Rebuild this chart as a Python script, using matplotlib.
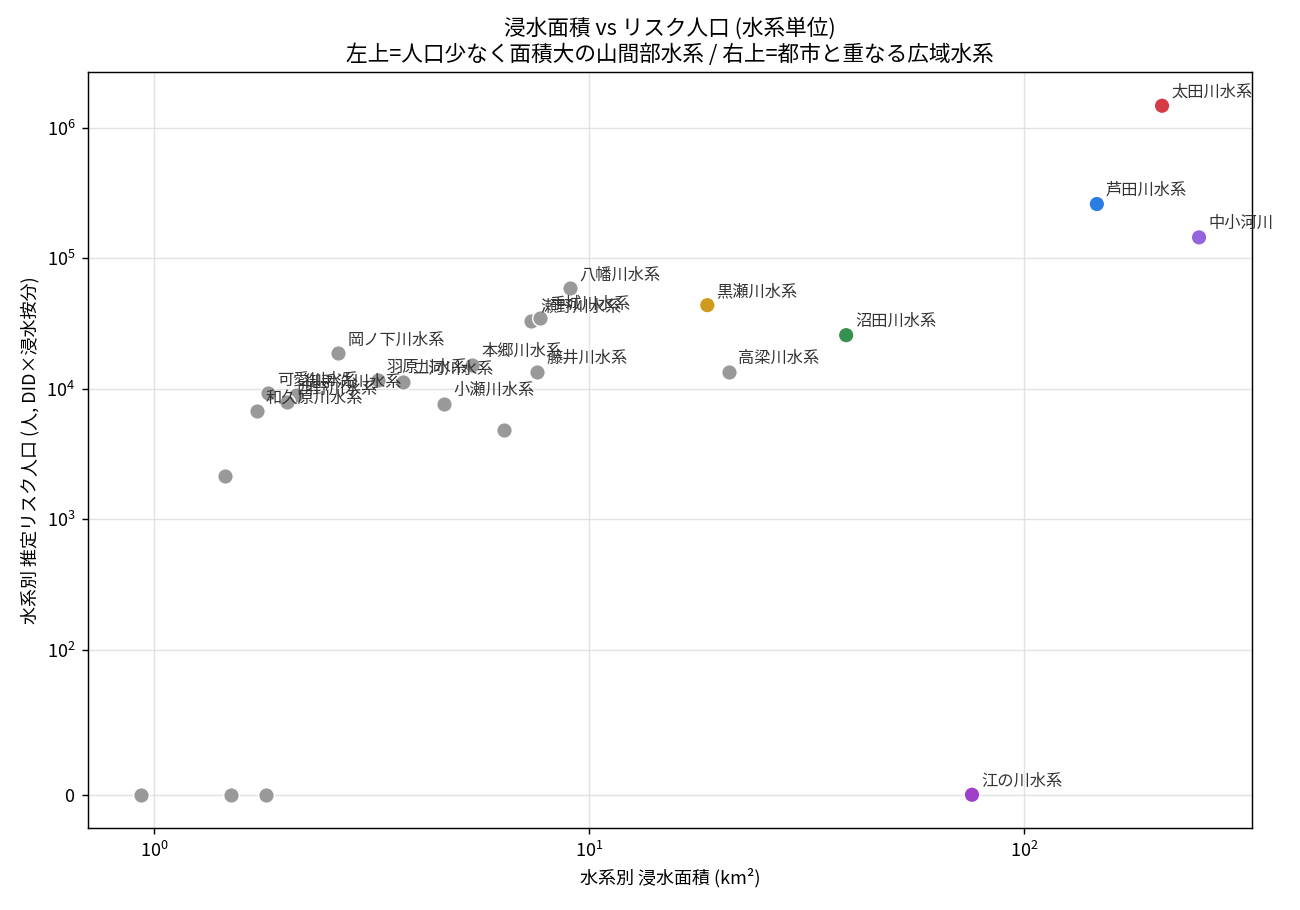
import matplotlib
matplotlib.use("Agg")
import matplotlib.pyplot as plt
from matplotlib.ticker import NullLocator

plt.rcParams['font.family'] = ['Noto Sans CJK JP', 'DejaVu Sans']

# gray (non-highlighted) systems
gray_names = ["八幡川水系", "瀬野川水系", "手城川水系", "本郷川水系", "藤井川水系",
              "岡ノ下川水系", "羽原川水系", "二河川水系", "小瀬川水系", "",
              "可愛川水系", "御手洗川水系", "西野川水系", "和久原川水系", "",
              "", "", "", "高梁川水系"]
gray_area = [9.04, 7.36, 7.72, 5.38, 7.59,
             2.65, 3.27, 3.74, 4.64, 6.38,
             1.83, 2.12, 2.02, 1.72, 1.456,
             0.933, 1.503, 1.809, 21.0]
gray_pop = [59100, 33000, 34800, 15200, 13400,
            18700, 11600, 11200, 7610, 4810,
            9250, 8920, 7880, 6730, 2130,
            0, 0, 0, 13400]

# highlighted systems
hl_names = ["太田川水系", "芦田川水系", "中小河川", "黒瀬川水系", "沼田川水系", "江の川水系"]
hl_area = [207.6, 147.0, 252.5, 18.7, 39.0, 75.9]
hl_pop = [1480000, 261000, 145000, 43800, 25800, 0]
hl_colors = ["#d63a47", "#2a7de1", "#9364de", "#cf9a1e", "#36904f", "#a03fc9"]

fig, ax = plt.subplots(figsize=(10, 7), dpi=130)
fig.subplots_adjust(left=0.0677, right=0.963, top=0.921, bottom=0.090)

ax.scatter(gray_area, gray_pop, s=75, color="#999999", edgecolor="white",
           linewidth=0.8, zorder=3)
ax.scatter(hl_area, hl_pop, s=75, c=hl_colors, edgecolor="white",
           linewidth=0.8, zorder=4)

for n, xv, yv in zip(gray_names + hl_names, gray_area + hl_area, gray_pop + hl_pop):
    if n:
        ax.annotate(n, (xv, yv), xytext=(5, 5), textcoords="offset points",
                    fontsize=9, color="#333333", zorder=5)

ax.set_xscale("log")
ax.set_yscale("symlog", linthresh=100)
ax.set_xlim(0.705, 334)
ax.set_ylim(-23, 2.69e6)
ax.xaxis.set_minor_locator(NullLocator())
ax.yaxis.set_minor_locator(NullLocator())
ax.grid(True, color="#dddddd", linewidth=0.8, alpha=0.8)
ax.set_axisbelow(True)

ax.set_xlabel("水系別 浸水面積 (km²)", fontsize=10)
ax.set_ylabel("水系別 推定リスク人口 (人, DID×浸水按分)", fontsize=10)
ax.set_title("浸水面積 vs リスク人口 (水系単位)\n左上=人口少なく面積大の山間部水系 / 右上=都市と重なる広域水系",
             fontsize=12)

fig.savefig("out.png", dpi=130)
